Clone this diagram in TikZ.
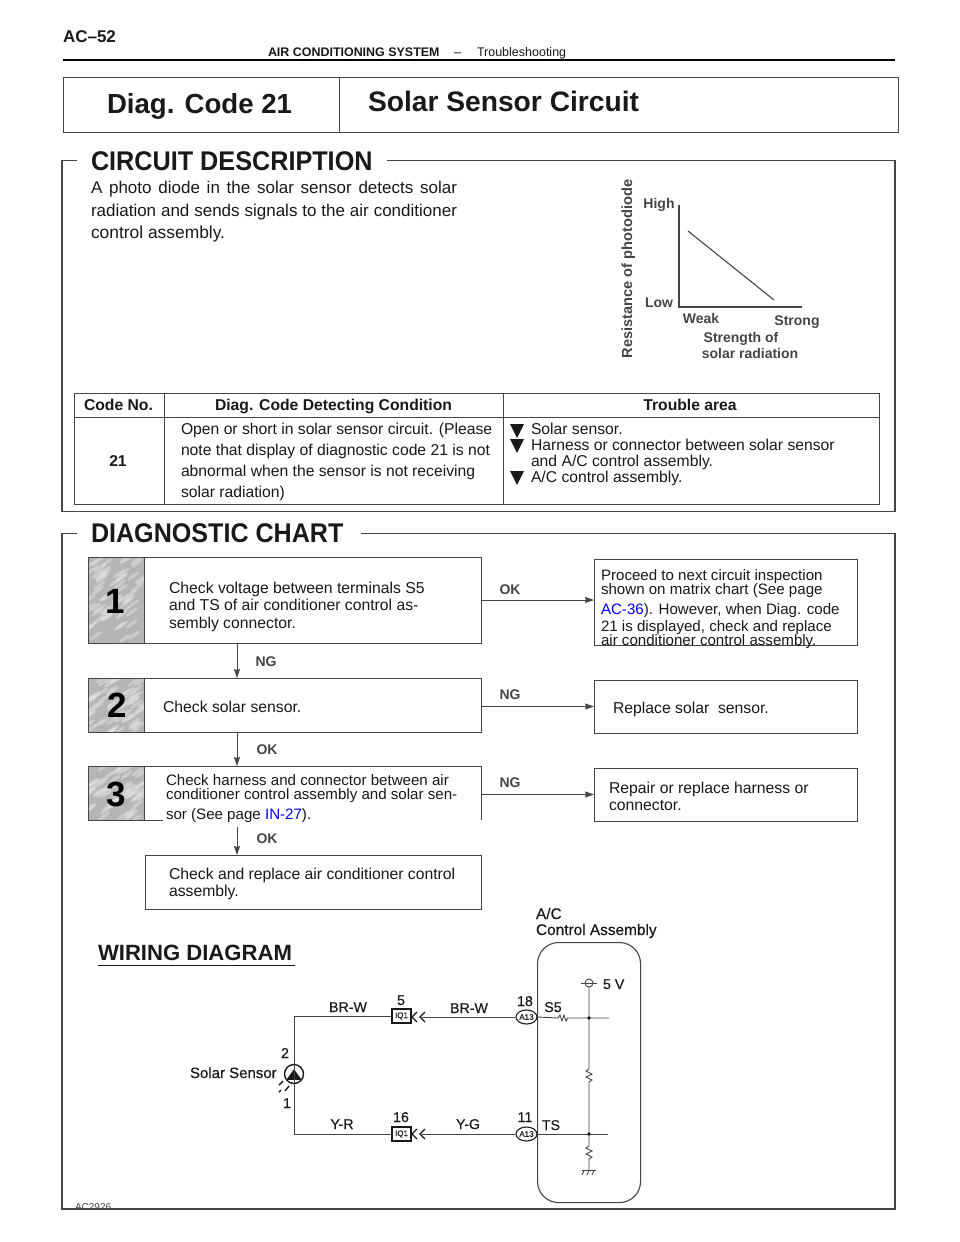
\documentclass[tikz,border=0pt]{standalone}
\usepackage{fontspec}
\usepackage{graphicx}
\setmainfont{Liberation Sans}
\newfontfamily\wfont[FakeBold=0.35]{Liberation Sans}
\usetikzlibrary{arrows.meta,shapes.geometric}
\newcounter{tnum}
\newcommand{\fs}[1]{\fontsize{#1}{#1}\selectfont}
\newcommand{\tx}[4][]{\stepcounter{tnum}\node[lbl,#1] (t\arabic{tnum}) at (#2,#3) {#4};}
\definecolor{ink}{gray}{0.1}
\definecolor{scan}{gray}{0.27}
\definecolor{lnk}{rgb}{0,0,1}
\tikzset{
 lbl/.style={inner sep=0pt,outer sep=0pt,anchor=base west,text=ink},
 ctr/.style={anchor=base},
 frameline/.style={draw=scan,line width=1.5pt},
 boxed/.style={draw=scan,line width=1pt,inner sep=0pt,outer sep=0pt,fill=white},
 plainbox/.style={inner sep=0pt,outer sep=0pt},
 arr/.style={draw=scan,line width=0.9pt,-{Stealth[length=9pt,width=6pt,inset=1pt]}},
 chart/.style={lbl,font=\fs{15.75}},
 tight/.style={lbl,font=\fs{15.1}},
 tb/.style={lbl,font=\fs{15.7}},
 thd/.style={lbl,ctr,font=\bfseries\fs{15.7}},
 scanlab/.style={lbl,text=scan,font=\bfseries\fs{14}},
 wlab/.style={lbl,text=ink,font=\wfont\fs{14.2}},
 wire/.style={draw=scan,line width=0.9pt},
 okng/.style={lbl,ctr,text=scan,font=\bfseries\fs{14}},
 tri/.style={fill=ink,draw=none},
 bign/.style={lbl,ctr,font=\bfseries\fs{35},text=black},
 tinyc/.style={draw=ink,line width=1.1pt,fill=white,inner sep=0pt,text=ink,font=\wfont\fs{8}},
}
\newcommand{\badge}[5]{%
 \begin{scope}
  \clip (#1,#2) rectangle (#3,#4);
  \fill[gray!58] (#1,#2) rectangle (#3,#4);
  \pgfmathsetseed{#5}
  \foreach \i in {1,...,60}{
    \pgfmathsetmacro{\bx}{#1+rnd*(#3-#1)}
    \pgfmathsetmacro{\by}{#2+rnd*(#4-#2)}
    \fill[gray!20,opacity=0.45,rotate around={35:(\bx,\by)}] (\bx,\by) ellipse (7 and 1.8);
  }
 \end{scope}
 \draw[scan,line width=1pt] (#1,#2) rectangle (#3,#4);
}
\begin{document}
\begin{tikzpicture}[x=1pt,y=-1pt]
\useasboundingbox (0,0) rectangle (960,1242);
\fill[white] (0,0) rectangle (960,1242);
% page header
\tx[font=\bfseries\fs{17}]{63}{42}{AC–52}
\draw[black,line width=1.4pt] (63,60) -- (895,60);
\tx[font=\bfseries\fs{12.45}]{268}{56}{AIR CONDITIONING SYSTEM}
\tx[font=\fs{12.6}]{454}{56}{–}
\tx[font=\fs{12.5}]{477}{56}{Troubleshooting}
% title block
\node[draw=scan,line width=1pt,minimum width=835pt,minimum height=55pt,inner sep=0pt,anchor=north west] (title) at (63,77) {};
\draw[scan,line width=1pt] (339,77) -- (339,132);
\tx[font=\bfseries\fs{27.6}]{107}{113}{Diag. Code 21}
\tx[font=\bfseries\fs{28.2}]{368}{111}{Solar Sensor Circuit}
% circuit description frame
\draw[frameline] (387,160.5) -- (895,160.5) -- (895,511.5) -- (62,511.5) -- (62,160.5) -- (77,160.5);
\tx[font=\bfseries\fs{27}]{91}{170}{\scalebox{0.934}[1]{CIRCUIT DESCRIPTION}}
\tx[font=\fs{17}]{91}{193}{\makebox[366pt][s]{A photo diode in the solar sensor detects solar}}
\tx[font=\fs{17}]{91}{216}{\makebox[366pt][s]{radiation and sends signals to the air conditioner}}
\tx[font=\fs{17.4}]{91}{238}{control assembly.}
% graph
\draw[draw=scan,line width=1.3pt] (679,205) -- (679,307) -- (802,307);
\draw[draw=scan,line width=1.1pt] (688,231) -- (774,300);
\tx[scanlab,ctr]{659}{208}{High}
\tx[scanlab,ctr]{659}{307}{Low}
\tx[scanlab,ctr]{701}{323}{Weak}
\tx[scanlab,ctr]{797}{325}{Strong}
\tx[scanlab,ctr]{741}{342}{Strength of}
\tx[scanlab,ctr]{750}{358}{solar radiation}
\tx[scanlab,anchor=base,rotate=90,font=\bfseries\fs{14.6}]{632}{269}{Resistance of photodiode}
% table
\draw[scan,line width=1pt] (74,393) rectangle (879,504);
\draw[scan,line width=1pt] (74,417.5) -- (879,417.5) (164,393) -- (164,504) (503,393) -- (503,504);
\tx[thd]{118.5}{410.5}{Code No.}
\tx[thd]{333.5}{410.5}{Diag. Code Detecting Condition}
\tx[thd]{690}{410.5}{Trouble area}
\tx[thd]{118}{466.5}{21}
\tx[tb]{181}{434.5}{Open or short in solar sensor circuit. (Please}
\tx[tb]{181}{455.5}{note that display of diagnostic code 21 is not}
\tx[tb]{181}{476.5}{abnormal when the sensor is not receiving}
\tx[tb]{181}{497.5}{solar radiation)}
\tx[tb]{531}{434.5}{Solar sensor.}
\tx[tb]{531}{450.5}{Harness or connector between solar sensor}
\tx[tb]{531}{466.5}{and A/C control assembly.}
\tx[tb]{531}{482.5}{A/C control assembly.}
\fill[tri] (510,424) -- (524,424) -- (517,438) -- cycle;
\fill[tri] (510,439) -- (524,439) -- (517,453) -- cycle;
\fill[tri] (510,471) -- (524,471) -- (517,485) -- cycle;
% diagnostic chart frame
\draw[frameline] (361,533.5) -- (895,533.5) -- (895,1209) -- (62,1209) -- (62,533.5) -- (77,533.5);
\tx[font=\bfseries\fs{27}]{91}{542}{\scalebox{0.93}[1]{DIAGNOSTIC CHART}}
% step boxes
\node[boxed,anchor=north west,minimum width=393pt,minimum height=86pt] (b1) at (88,557) {};
\node[boxed,anchor=north west,minimum width=393pt,minimum height=54pt] (b2) at (88,678) {};
\node[plainbox,anchor=north west,minimum width=393pt,minimum height=54pt] (b3) at (88,766) {};
\draw[scan,line width=1pt] (b3.north west) -- (b3.north east) -- (b3.south east);
\draw[scan,line width=1pt] (b3.north west) -- (b3.south west) -- (163,820);
\node[boxed,anchor=north west,minimum width=336pt,minimum height=54pt] (b4) at (145,855) {};
\badge{88}{557}{144}{643}{11}
\badge{88}{678}{144}{732}{23}
\badge{88}{766}{144}{820}{37}
\tx[bign]{115}{613}{1}
\tx[bign]{117}{717}{2}
\tx[bign]{116}{806}{3}
\node[boxed,anchor=north west,minimum width=263pt,minimum height=86pt] (r1) at (594,559) {};
\node[boxed,anchor=north west,minimum width=263pt,minimum height=53pt] (r2) at (594,680) {};
\node[boxed,anchor=north west,minimum width=263pt,minimum height=53pt] (r3) at (594,768) {};
% chart text
\tx[chart]{169}{593}{Check voltage between terminals S5}
\tx[chart]{169}{610}{and TS of air conditioner control as-}
\tx[chart]{169}{628}{sembly connector.}
\tx[chart]{163}{712}{Check solar sensor.}
\tx[tight]{166}{785}{Check harness and connector between air}
\tx[tight]{166}{799}{conditioner control assembly and solar sen-}
\tx[tight]{166}{819}{sor (See page \textcolor{lnk}{IN-27}).}
\tx[chart]{169}{879}{Check and replace air conditioner control}
\tx[chart]{169}{896}{assembly.}
\tx[tight]{601}{580}{Proceed to next circuit inspection}
\tx[tight]{601}{594}{shown on matrix chart (See page}
\tx[tight]{601}{614}{\textcolor{lnk}{AC-36}). However, when Diag. code}
\tx[tight]{601}{631}{21 is displayed, check and replace}
\tx[tight]{601}{645}{air conditioner control assembly.}
\tx[chart]{613}{713}{Replace solar\ \ sensor.}
\tx[chart]{609}{793}{Repair or replace harness or}
\tx[chart]{609}{810}{connector.}
% connectors
\coordinate (vx) at (237,0);
\coordinate (v3) at (237,827);
\draw[arr] (b1.south -| vx) -- (b2.north -| vx);
\draw[arr] (b2.south -| vx) -- (b3.north -| vx);
\draw[arr] (v3) -- (b4.north -| v3);
\draw[arr] (b1.east) -- (r1.west |- b1.east);
\draw[arr] (b2.east |- r2.west) -- (r2.west);
\draw[arr] (b3.east |- r3.west) -- (r3.west);
\tx[okng]{266}{666}{NG}
\tx[okng]{267}{754}{OK}
\tx[okng]{267}{843}{OK}
\tx[okng]{510}{594}{OK}
\tx[okng]{510}{699}{NG}
\tx[okng]{510}{787}{NG}
% wiring diagram
\tx[font=\bfseries\fs{22.1},text=ink]{98}{960}{WIRING DIAGRAM}
\draw[ink,line width=1.2pt] (98,965.5) -- (295,965.5);
\tx[wlab,font=\wfont\fs{15.4}]{536}{919}{A/C}
\tx[wlab,font=\wfont\fs{15.4}]{536}{935}{Control Assembly}
\node[draw=scan,line width=1.1pt,rounded corners=21pt,minimum width=103pt,minimum height=260pt,inner sep=0pt,anchor=north west] (ecu) at (537,942) {};
% wiring
\node[draw=ink,line width=1.4pt,circle,minimum size=19pt,inner sep=0pt] (sd) at (294,1074) {};
\fill[ink] (294,1069) -- (301,1079) -- (287,1079) -- cycle;
\draw[ink,line width=1.2pt] (286,1079.5) -- (302,1079.5);
\draw[wire] (sd.north) -- (sd.south);
\draw[ink,line width=1.4pt] (283,1081) -- (279,1085) (289,1086) -- (285,1091) (281,1090) -- (279,1092);
\node[tinyc,minimum width=19pt,minimum height=14pt] (iqa) at (401.5,1016) {IQ1};
\node[tinyc,minimum width=19pt,minimum height=14pt] (iqb) at (401.5,1134) {IQ1};
\node[tinyc,ellipse,minimum width=21pt,minimum height=14pt] (aa) at (526.5,1017) {A13};
\node[tinyc,ellipse,minimum width=21pt,minimum height=14pt] (ab) at (526.5,1134) {A13};
\coordinate (cha) at (422,1017);
\coordinate (chb) at (422,1134);
\draw[wire] (sd.north) |- (iqa.west);
\draw[wire] (sd.south) |- (iqb.west);
\draw[wire] (cha) -- (aa.west);
\draw[wire] (chb) -- (ab.west);
\draw[ink,line width=1.1pt] (417,1012) -- (412,1017) -- (417,1022) (425,1012) -- (420,1017) -- (425,1022);
\draw[ink,line width=1.1pt] (417,1129) -- (412,1134) -- (417,1139) (425,1129) -- (420,1134) -- (425,1139);
% inside the assembly
\coordinate (spl) at (589,983);
\coordinate (ja) at (589,1018);
\coordinate (jb) at (589,1134);
\coordinate (sa) at (609,1018);
\coordinate (sb) at (608,1134);
\node[draw=scan,line width=0.9pt,circle,minimum size=8pt,inner sep=0pt] (vc) at (spl) {};
\draw[wire] (581,983) -- (597,983);
\draw[wire] (aa.east) -- (558,1018) -- ++(2,-3) -- ++(2,6) -- ++(2,-6) -- ++(2,6) -- ++(1.5,-3) -- (sa);
\draw[wire] (ab.east) -- (sb);
\draw[wire] (vc.south) -- (589,1069) -- ++(-3,2) -- ++(6,3) -- ++(-6,3) -- ++(6,3) -- ++(-3,2) -- (589,1146) -- ++(-3,2) -- ++(6,3) -- ++(-6,3) -- ++(6,3) -- ++(-3,2) -- (589,1170);
\draw[wire] (582,1170.5) -- (596,1170.5) (584,1170.5) -- (582,1175) (589,1170.5) -- (587,1175) (594,1170.5) -- (592,1175);
\fill[ink] (ja) circle (1.8) (jb) circle (1.8);
\tx[wlab,ctr]{348}{1012}{BR-W}
\tx[wlab,ctr]{469}{1013}{BR-W}
\tx[wlab,ctr]{401}{1005}{5}
\tx[wlab,ctr]{525}{1006}{18}
\tx[wlab,ctr]{553}{1012}{S5}
\tx[wlab,ctr]{342}{1129}{Y-R}
\tx[wlab,ctr]{468}{1129}{Y-G}
\tx[wlab,ctr]{401}{1122}{16}
\tx[wlab,ctr]{525}{1122}{11}
\tx[wlab,ctr]{551}{1130}{TS}
\tx[wlab,ctr]{285}{1058}{2}
\tx[wlab,ctr]{287}{1108}{1}
\tx[wlab]{603}{989}{5 V}
\tx[wlab,font=\wfont\fs{15}]{190}{1078}{Solar Sensor}
\tx[wlab,font=\fs{10},text=scan]{75}{1210}{AC2926}
\end{tikzpicture}
\end{document}
